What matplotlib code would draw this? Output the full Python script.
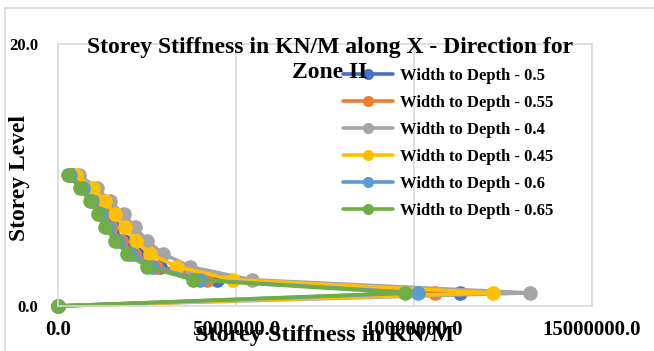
import matplotlib
matplotlib.use("Agg")
import matplotlib.pyplot as plt
from matplotlib.lines import Line2D

storeys = [0, 1, 2, 3, 4, 5, 6, 7, 8, 9, 10]
series_names = ["Width to Depth - 0.5", "Width to Depth - 0.55", "Width to Depth - 0.4",
                "Width to Depth - 0.45", "Width to Depth - 0.6", "Width to Depth - 0.65"]
wd_050 = [0, 11290000, 4470000, 2870000, 2220000, 1850000, 1540000, 1320000, 1070000, 810000, 420000]
wd_055 = [0, 10590000, 4190000, 2750000, 2130000, 1770000, 1490000, 1260000, 1010000, 760000, 370000]
wd_040 = [0, 13260000, 5450000, 3710000, 2950000, 2500000, 2160000, 1850000, 1460000, 1100000, 590000]
wd_045 = [0, 12220000, 4920000, 3340000, 2580000, 2190000, 1880000, 1600000, 1320000, 980000, 510000]
wd_060 = [0, 10110000, 3990000, 2640000, 2050000, 1690000, 1400000, 1210000, 960000, 700000, 340000]
wd_065 = [0, 9750000, 3790000, 2500000, 1940000, 1600000, 1320000, 1120000, 900000, 620000, 280000]
colors = ["#4472C4", "#ED7D31", "#A5A5A5", "#FFC000", "#5B9BD5", "#70AD47"]
x_ticks = [0, 5000000, 10000000, 15000000]
x_tick_labels = ["0.0", "5000000.0", "10000000.0", "15000000.0"]
y_ticks = [0, 20]
y_tick_labels = ["0.0", "20.0"]

serif = ["Liberation Serif", "DejaVu Serif"]

fig = plt.figure(figsize=(6.54, 3.51), dpi=100)
border_y = 1 - 8 / 351
border_x = 5 / 654
fig.add_artist(Line2D([border_x, 1], [border_y, border_y], transform=fig.transFigure,
                      color="#D9D9D9", linewidth=1.2))
fig.add_artist(Line2D([border_x, border_x], [0, border_y], transform=fig.transFigure,
                      color="#D9D9D9", linewidth=1.2))
ax = fig.add_axes([58 / 654, 1 - 306 / 351, 534 / 654, 262 / 351])

data = [wd_050, wd_055, wd_040, wd_045, wd_060, wd_065]
for name, vals, c in zip(series_names, data, colors):
    ax.plot(vals, storeys, color=c, linewidth=2.6, marker="o", markersize=9.5,
            label=name, solid_capstyle="round", clip_on=False)

ax.set_xlim(0, 15000000)
ax.set_ylim(0, 20)
ax.set_xticks(x_ticks)
ax.set_xticklabels(x_tick_labels, family=serif, fontweight="bold", fontsize=15)
ax.set_yticks(y_ticks)
ax.set_yticklabels(y_tick_labels, family=serif, fontweight="bold", fontsize=12)
ax.tick_params(axis="both", length=0)
ax.tick_params(axis="x", pad=10)
ax.tick_params(axis="y", pad=14)
ax.grid(axis="x", color="#D9D9D9", linewidth=1.2)
ax.set_axisbelow(True)
for s in ax.spines.values():
    s.set_color("#D9D9D9")
    s.set_linewidth(1.2)

fig.text(325 / 654, 1 - 335 / 351, "Storey Stiffness in KN/M", ha="center", va="center",
         family=serif, fontweight="bold", fontsize=17.5)
fig.text(20 / 654, 1 - 178 / 351, "Storey Level", ha="center", va="center", rotation=90,
         family=serif, fontweight="bold", fontsize=17)
fig.text(330 / 654, 1 - 60 / 351, "Storey Stiffness in KN/M along X - Direction for\nZone II",
         ha="center", va="center", family=serif, fontweight="bold", fontsize=17,
         linespacing=1.3)

leg = ax.legend(loc="upper left", bbox_to_anchor=(336 / 654, 1 - 61 / 351),
                bbox_transform=fig.transFigure, frameon=False,
                prop={"family": serif, "weight": "bold", "size": 12},
                handlelength=3.0, labelspacing=0.66, handletextpad=0.45, borderaxespad=0)
for h in leg.legend_handles:
    h.set_markersize(7)

fig.savefig("out.png", dpi=100)
